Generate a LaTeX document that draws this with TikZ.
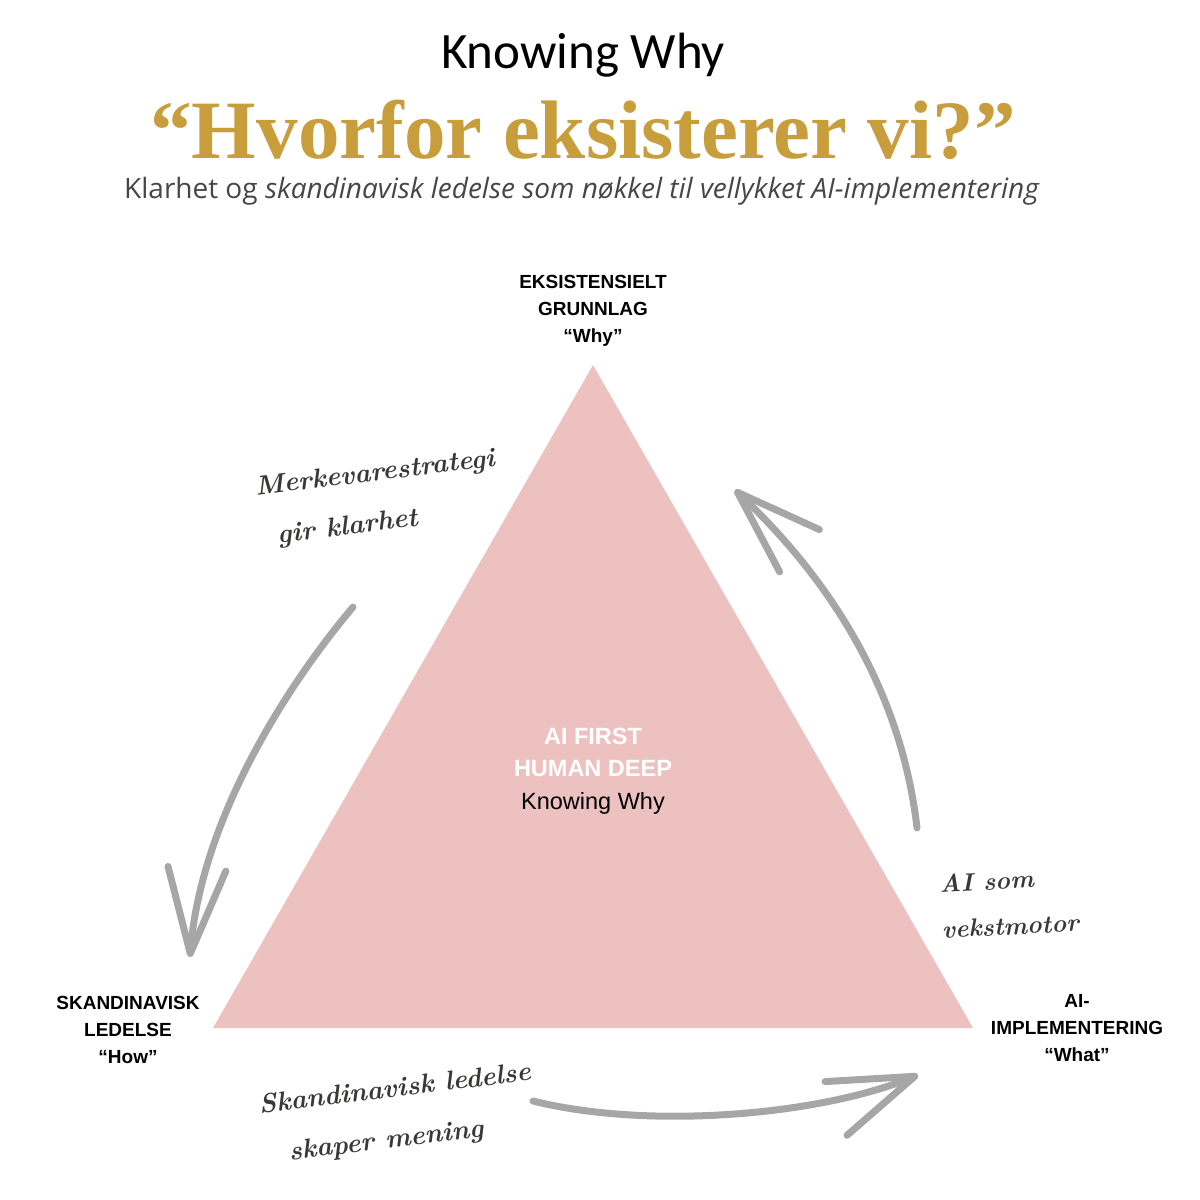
\documentclass[tikz,border=0pt]{standalone}
\usepackage{fontspec}
\usetikzlibrary{arrows.meta,positioning}
\newfontfamily\headfont{Carlito}
\newfontfamily\goldfont{Liberation Serif}
\newfontfamily\subfont{Open Sans}
\newfontfamily\lblfont{Liberation Sans}
\newfontfamily\handfont{Latin Modern Roman}
\definecolor{gold}{RGB}{200,157,60}
\definecolor{rose}{RGB}{237,193,192}
\definecolor{stroke}{RGB}{166,166,166}
\definecolor{ink}{RGB}{58,56,54}
\definecolor{subgray}{RGB}{70,70,70}

\begin{document}
\begin{tikzpicture}[x=1pt,y=-1pt,
lbl/.style={font=\lblfont\bfseries\fontsize{19}{27}\selectfont,align=center},
hand/.style={font=\handfont\bfseries\itshape\fontsize{27}{50}\selectfont,text=ink,align=left},
arr/.style={-{Straight Barb[length=85pt,width=58pt,round]},line width=7pt,draw=stroke,line cap=round}]
\useasboundingbox (0,0) rectangle (1200,1200);
% triangle
\coordinate (apex) at (593,365);\coordinate (bl) at (213,1028);\coordinate (br) at (973,1028);
\fill[rose] (apex)--(br)--(bl)--cycle;
% heading
\node[font=\headfont\fontsize{51}{60}\selectfont,anchor=base] (head) at (583,68) {Knowing Why};
\node[font=\goldfont\bfseries\fontsize{83}{90}\selectfont,text=gold,anchor=base] (quest) at (583,158) {“Hvorfor eksisterer vi?”};
\node[font=\subfont\fontsize{28}{32}\selectfont,text=subgray,anchor=base] (sub) at (582,198) {Klarhet og \textit{skandinavisk ledelse som nøkkel til vellykket AI-implementering}};
% corners
\node[lbl] (why) at (593,311) {EKSISTENSIELT\\GRUNNLAG\\“Why”};
\node[lbl] (how) at (128,1030) {SKANDINAVISK\\LEDELSE\\“How”};
\node[lbl] (what) at (1077,1028) {AI-\\IMPLEMENTERING\\“What”};
\node[font=\lblfont\fontsize{23.5}{32.5}\selectfont,align=center] (core) at (593,771) {\textcolor{white}{\bfseries AI FIRST}\\\textcolor{white}{\bfseries HUMAN DEEP}\\Knowing Why};
% handwritten notes
\node[hand,rotate=7] (brand) at (378,499) {Merkevarestrategi\\\hspace{16pt}gir klarhet};
\node[hand,rotate=3,font=\handfont\bfseries\itshape\fontsize{25}{46}\selectfont] (growth) at (1009,903) {AI som\\vekstmotor};
\node[hand,rotate=7] (meaning) at (398,1115) {Skandinavisk ledelse\\\hspace{24pt}skaper mening};
% cycle arrows
\coordinate (l1) at (353,607);\coordinate (l2) at (190,957);
\coordinate (r1) at (917,828);\coordinate (r2) at (735,490);
\coordinate (b1) at (533,1101);\coordinate (b2) at (918,1075);
\draw[arr] (l1) .. controls (275,700) and (200,830) .. (l2);
\draw[arr] (r1) .. controls (900,680) and (820,570) .. (r2);
\draw[arr] (b1) .. controls (650,1130) and (820,1115) .. (b2);
\end{tikzpicture}
\end{document}
